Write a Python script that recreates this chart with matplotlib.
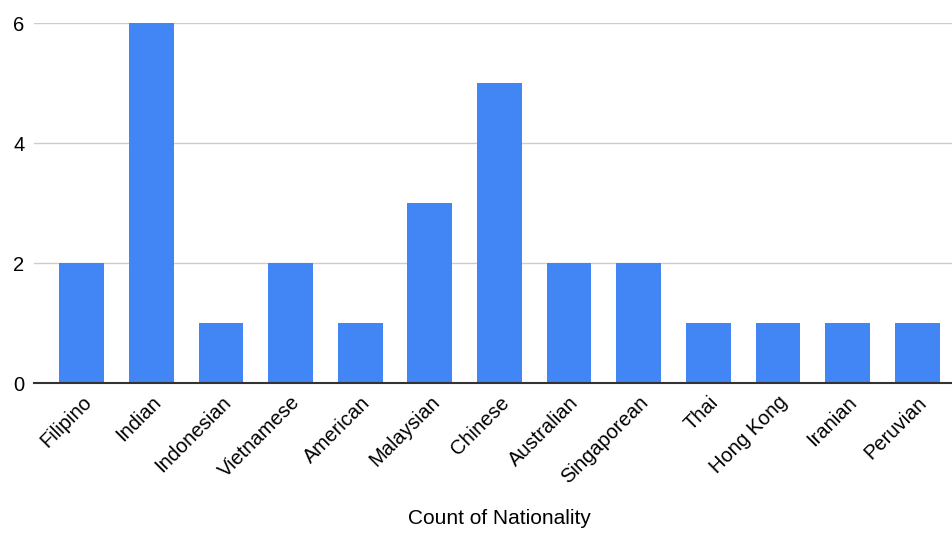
import matplotlib.pyplot as plt

# ==========================================
# NATIONALITY DATA
# ==========================================

nationalities = [
    "Filipino", "Indian", "Indonesian", "Vietnamese", "American",
    "Malaysian", "Chinese", "Australian", "Singaporean", "Thai",
    "Hong Kong", "Iranian", "Peruvian"
]

counts = [2, 6, 1, 2, 1, 3, 5, 2, 2, 1, 1, 1, 1]

y_ticks = [0, 2, 4, 6]

# ==========================================
# FIGURE
# ==========================================

plt.rcParams["font.family"] = ["Liberation Sans", "DejaVu Sans"]

fig = plt.figure(figsize=(9.53, 5.36), dpi=100)
ax = fig.add_axes([0.0357, 0.2854, 0.9629, 0.6716])

x = list(range(len(nationalities)))

ax.bar(x, counts, width=0.642, color="#4285F4", zorder=3)

ax.set_xlim(-0.685, len(nationalities) - 1 + 0.495)
ax.set_ylim(0, 6)
ax.set_yticks(y_ticks)
ax.set_yticklabels([str(v) for v in y_ticks], fontsize=14.5)

ax.set_xticks(x)
ax.set_xticklabels(nationalities, rotation=45, ha="right",
                   rotation_mode="anchor", fontsize=14.5)

ax.grid(axis="y", color="#cccccc", linewidth=1, zorder=0)
ax.tick_params(axis="both", length=0)
ax.tick_params(axis="y", pad=7)
ax.tick_params(axis="x", pad=7)

for side in ["top", "right", "left"]:
    ax.spines[side].set_visible(False)
ax.spines["bottom"].set_color("#333333")
ax.spines["bottom"].set_linewidth(1.5)
ax.spines["bottom"].set_zorder(4)

fig.text(0.524, 0.014, "Count of Nationality", ha="center", va="bottom",
         fontsize=15)

fig.savefig("out.png", dpi=100)
